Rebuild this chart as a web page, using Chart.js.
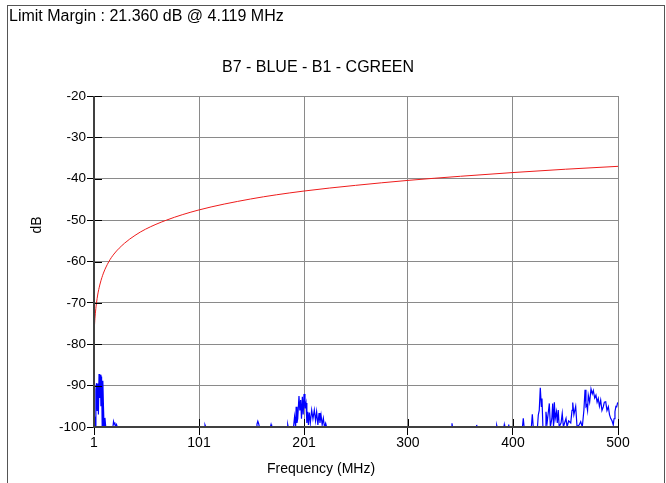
<!DOCTYPE html>
<html>
<head>
<meta charset="utf-8">
<script src="https://cdn.jsdelivr.net/npm/chart.js@4"></script>
<style>
    html, body { margin: 0; padding: 0; background: #fff; overflow: hidden; }
    #wrap { position: relative; width: 666px; height: 483px; }
    #frame { position: absolute; left: 7px; top: 5px; width: 656px; height: 500px; border: 1px solid #555; pointer-events: none; }
</style>
</head>
<body>
<div id="wrap">
    <canvas id="spectrumChart"></canvas>
    <div id="frame"></div>
</div>
<script>
// Axis ticks
const xTickValues = [1, 101, 201, 300, 400, 500];
const yMin = -100, yMax = -20;

// Limit line (red)
const limitFreq  = [1, 1.5, 2, 3, 4, 5, 7, 10, 15, 20, 30, 40, 50, 70, 100, 150, 200, 250, 300, 350, 400, 450, 500];
const limitLevel = [-78.0, -75.3, -73.4, -70.8, -68.9, -67.4, -65.2, -62.8, -60.1, -58.2, -55.6, -53.7, -52.2, -50.0, -47.6, -44.9, -43.0, -41.6, -40.4, -39.4, -38.5, -37.7, -37.0];

// Measured trace (blue), [MHz, dB]
const blueLowBand = [
    [1, -100], [1.6, -97.5], [2.2, -100], [2.8, -91], [3.4, -89.4], [4, -96], [4.6, -89.5], [5.2, -97],
    [5.8, -87.2], [6.4, -93], [7, -87.4], [7.6, -95], [8.2, -87.8], [8.8, -100], [9.4, -88.8], [10, -95],
    [10.6, -100], [11.4, -97.8], [12.2, -100], [19, -100], [19.6, -98.7], [20.2, -99.3], [20.8, -98.9],
    [21.4, -100], [22.4, -99.4], [23.2, -100]
];
const blueSmallSpurs1 = [
    [106, -100], [106.7, -99.5], [107.4, -100], [155.5, -100], [156.2, -99.3], [157, -98.6], [157.8, -99.2],
    [158.5, -100], [169, -100], [169.6, -99.4], [170.2, -100], [185, -100], [185.5, -99.4], [186, -100]
];
const blueMidBand = [
    [191, -100], [192, -97.5], [193, -100], [193.5, -95.1], [194.3, -99], [195, -98], [196.2, -92.5],
    [197, -96], [197.8, -93.5], [198.6, -98], [199.4, -92.7], [200.2, -97], [201, -92], [201.9, -95.5],
    [202.9, -94.2], [203.7, -99], [204.5, -96.3], [205.2, -99.5], [206, -96.5], [207, -99], [208.3, -95.9],
    [209.5, -98], [210.8, -95.9], [212, -98.5], [213, -96.3], [214.2, -99.5], [215.3, -96.6], [216.2, -99],
    [217.2, -97.1], [218.3, -99.5], [219.4, -97.9], [220.5, -100], [221.6, -99.1], [222.5, -100]
];
const blueSmallSpurs2 = [
    [341.5, -100], [341.9, -99.1], [342.4, -100], [365, -100], [365.4, -99.5], [365.8, -100],
    [384.2, -100], [384.5, -99.6], [384.9, -100], [391.3, -100], [391.7, -99.4], [392.1, -100],
    [395.5, -100], [395.9, -99.4], [396.3, -100]
];
const blueHighBand = [
    [409, -100], [409.8, -97.9], [410.6, -100], [417.5, -100], [418.4, -96.9], [419.3, -100], [423.3, -100],
    [424.1, -97.1], [425, -96], [426, -90.5], [427, -95], [427.6, -93.1], [428.5, -100], [430.6, -100],
    [431.4, -96.3], [432.5, -99], [434.6, -94.3], [435.6, -100], [437, -98], [437.8, -94.3], [438.6, -100],
    [439.4, -94], [440.2, -98], [441.4, -96.3], [442.2, -99], [443.1, -95.9], [444, -100], [445.8, -99],
    [446.9, -96.7], [448, -100], [450.5, -97.9], [451.5, -100], [453, -98.5], [455, -99], [456.2, -96],
    [456.9, -94.1], [458, -97], [459.7, -95], [461, -100], [463, -99.5], [464.5, -98.7], [466, -100],
    [467.5, -96], [468.6, -91], [469.5, -95], [470.2, -94.7], [471, -96], [471.7, -92.3], [473, -94],
    [474.3, -90.8], [475.5, -92], [476.5, -91.2], [477.8, -93], [479, -92.3], [480.1, -94], [481.2, -93.1],
    [482.3, -95], [483.5, -93.5], [484.7, -96], [486, -95.1], [487, -94], [488.3, -93.9], [489.5, -96],
    [490.8, -95.1], [491.9, -97], [493, -97.9], [494.3, -98.5], [495.5, -99.5], [496.2, -98], [497.1, -96.3],
    [498, -95], [498.8, -95.1], [499.5, -94.3], [500, -94.5]
];

const FONT = '"Liberation Sans", Arial, sans-serif';

const blueTrace = [...blueLowBand, ...blueSmallSpurs1, ...blueMidBand, ...blueSmallSpurs2, ...blueHighBand]
    .map(p => ({ x: p[0], y: p[1] }));
const limitTrace = limitFreq.map((f, i) => ({ x: f, y: limitLevel[i] }));

// texts outside the plot area
const labelsPlugin = {
    id: 'labels',
    afterDraw(chart) {
        const ctx = chart.ctx;
        ctx.save();
        ctx.fillStyle = '#000';
        ctx.textBaseline = 'middle';
        ctx.font = '16px ' + FONT;
        ctx.textAlign = 'left';
        ctx.fillText('Limit Margin : 21.360 dB @ 4.119 MHz', 9, 17);
        ctx.textAlign = 'center';
        ctx.fillText('B7 - BLUE - B1 - CGREEN', 318, 68);
        ctx.font = '14px ' + FONT;
        ctx.fillText('Frequency (MHz)', 321, 469);
        ctx.translate(37, 225);
        ctx.rotate(-Math.PI / 2);
        ctx.fillText('dB', 0, 0);
        ctx.restore();
    }
};

// axis lines drawn over the traces, with ticks crossing them
const axisPlugin = {
    id: 'axisOverlay',
    afterDatasetsDraw(chart) {
        const { ctx, chartArea: a, scales: { x, y } } = chart;
        ctx.save();
        ctx.strokeStyle = '#000';
        ctx.lineWidth = 1;
        ctx.beginPath();
        xTickValues.forEach(v => {
            const px = Math.round(x.getPixelForValue(v)) + 0.5;
            ctx.moveTo(px, a.bottom); ctx.lineTo(px, a.bottom - 8);
        });
        y.ticks.forEach(t => {
            const py = Math.round(y.getPixelForValue(t.value)) + 0.5;
            ctx.moveTo(a.left, py); ctx.lineTo(a.left + 8, py);
        });
        ctx.stroke();
        ctx.strokeStyle = '#404040';
        ctx.lineWidth = 2;
        ctx.beginPath();
        ctx.moveTo(a.left, a.top);
        ctx.lineTo(a.left, a.bottom);
        ctx.lineTo(a.right, a.bottom);
        ctx.stroke();
        ctx.restore();
    }
};

new Chart(document.getElementById('spectrumChart'), {
    type: 'line',
    data: {
        datasets: [
            {
                label: 'Limit',
                data: limitTrace,
                borderColor: '#ee1c1c',
                borderWidth: 1,
                pointRadius: 0,
                cubicInterpolationMode: 'monotone',
                fill: false
            },
            {
                label: 'Trace',
                data: blueTrace,
                borderColor: '#0000ff',
                borderWidth: 1.2,
                pointRadius: 0,
                tension: 0,
                fill: false
            }
        ]
    },
    options: {
        responsive: true,
        maintainAspectRatio: false,
        animation: false,
        events: [],
        layout: { padding: { top: 96, right: 48, bottom: 0, left: 0 } },
        plugins: { legend: { display: false }, tooltip: { enabled: false }, title: { display: false } },
        scales: {
            x: {
                type: 'linear',
                min: 1,
                max: 500,
                afterBuildTicks: s => { s.ticks = xTickValues.map(v => ({ value: v })); },
                afterFit: s => { s.height = 56; },
                border: { display: false },
                grid: { color: '#8a8a8a', tickColor: '#000', tickLength: 8, lineWidth: 1 },
                ticks: { color: '#000', font: { family: FONT, size: 14 }, padding: 0, maxRotation: 0, callback: v => String(v) }
            },
            y: {
                min: yMin,
                max: yMax,
                afterFit: s => { s.width = 94; },
                border: { display: false },
                grid: { color: '#8a8a8a', tickColor: '#000', tickLength: 7, lineWidth: 1 },
                ticks: { stepSize: 10, color: '#000', font: { family: FONT, size: 13.5 }, padding: 1 }
            }
        }
    },
    plugins: [labelsPlugin, axisPlugin]
});
</script>
</body>
</html>
